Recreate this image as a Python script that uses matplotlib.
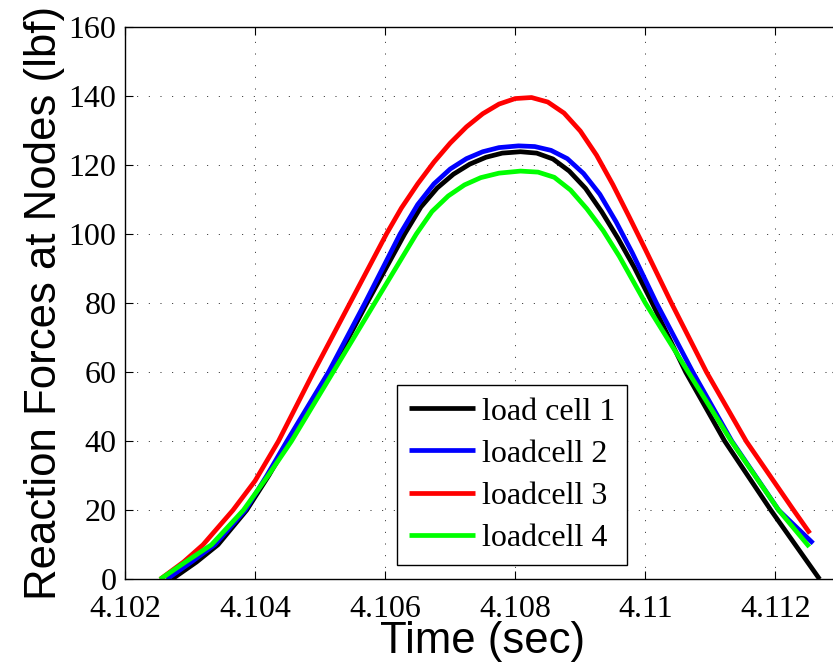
import matplotlib
matplotlib.use('Agg')
import matplotlib.pyplot as plt

# values (time in sec, force in lbf)
t_cell1 = [4.10272, 4.10310, 4.10343, 4.10387, 4.10421, 4.10452, 4.10484, 4.10516, 4.10544,
           4.10572, 4.10601, 4.10630, 4.10655, 4.10680, 4.10705, 4.10730, 4.10755, 4.10780,
           4.10808, 4.10833, 4.10858, 4.10883, 4.10908, 4.10933, 4.10958, 4.10983, 4.11010,
           4.11062, 4.11122, 4.11193, 4.11268]
f_cell1 = [0, 5, 10, 20, 30, 40, 50, 60, 70,
           80, 90, 100, 107.8, 113.3, 117.3, 120.2, 122.2, 123.4,
           123.8, 123.4, 121.7, 118.2, 113.2, 106.4, 98.7, 90.3, 80.2,
           60, 40, 20, 0]

t_cell2 = [4.10264, 4.10302, 4.10338, 4.10385, 4.10418, 4.10449, 4.10481, 4.10513, 4.10541,
           4.10569, 4.10596, 4.10623, 4.10650, 4.10675, 4.10700, 4.10725, 4.10750, 4.10775,
           4.10805, 4.10830, 4.10855, 4.10880, 4.10905, 4.10930, 4.10955, 4.10980, 4.11017,
           4.11073, 4.11133, 4.11205, 4.11258]
f_cell2 = [0, 5, 10, 20, 30, 40, 50, 60, 70,
           80, 90, 100, 108.5, 114.5, 118.8, 121.8, 123.8, 125.0,
           125.5, 125.3, 124.2, 121.8, 117.5, 111.5, 103.5, 94.5, 80,
           60, 40, 20, 10.4]

t_cell3 = [4.10254, 4.10290, 4.10320, 4.10366, 4.10400, 4.10436, 4.10463, 4.10490, 4.10518,
           4.10546, 4.10574, 4.10602, 4.10625, 4.10650, 4.10675, 4.10700, 4.10725, 4.10750,
           4.10775, 4.10800, 4.10825, 4.10850, 4.10875, 4.10900, 4.10925, 4.10950, 4.10975,
           4.11000, 4.11040, 4.11094, 4.11155, 4.11228, 4.11253]
f_cell3 = [0, 5, 10, 20, 28.5, 40, 50, 60, 70,
           80, 90, 100, 107.5, 114.5, 120.8, 126.3, 131.0, 134.8,
           137.6, 139.2, 139.5, 138.2, 135.0, 129.8, 122.8, 114.3, 105.0,
           95.5, 80, 60, 40, 20, 13.3]

t_cell4 = [4.10254, 4.10293, 4.10333, 4.10382, 4.10420, 4.10456, 4.10488, 4.10520, 4.10552,
           4.10584, 4.10616, 4.10648, 4.10672, 4.10697, 4.10722, 4.10747, 4.10775, 4.10808,
           4.10835, 4.10860, 4.10885, 4.10910, 4.10935, 4.10960, 4.11000, 4.11066, 4.11132,
           4.11205, 4.11252]
f_cell4 = [0, 5, 10, 20, 30, 40, 50, 60, 70,
           80, 90, 100, 106.5, 111.0, 114.2, 116.3, 117.6, 118.2,
           117.9, 116.4, 112.7, 107.3, 101.0, 93.5, 80, 60, 40,
           20, 9.4]

labels = ['load cell 1', 'loadcell 2', 'loadcell 3', 'loadcell 4']
colors = ['#000000', '#0000ff', '#ff0000', '#00ff00']

x_ticks = [4.102, 4.104, 4.106, 4.108, 4.110, 4.112]
x_tick_labels = ['4.102', '4.104', '4.106', '4.108', '4.11', '4.112']
y_ticks = [0, 20, 40, 60, 80, 100, 120, 140, 160]

serif = ['Liberation Serif', 'DejaVu Serif']
sans = ['Liberation Sans', 'DejaVu Sans']

fig = plt.figure(figsize=(8.33, 6.68), dpi=100)
# right edge of the axes lies past the figure edge (cropped like the reference)
ax = fig.add_axes([0.150, 0.1328, 0.859, 0.8272])

series = [(t_cell1, f_cell1), (t_cell2, f_cell2), (t_cell3, f_cell3), (t_cell4, f_cell4)]
for (t, f), lab, col in zip(series, labels, colors):
    ax.plot(t, f, color=col, linewidth=3.4, label=lab, solid_capstyle='butt',
            solid_joinstyle='round')

ax.set_xlim(4.102, 4.113)
ax.set_ylim(0, 160)
ax.set_xticks(x_ticks)
ax.set_xticklabels(x_tick_labels, family=serif, fontsize=23)
ax.set_yticks(y_ticks)
ax.set_yticklabels([str(v) for v in y_ticks], family=serif, fontsize=23)
ax.tick_params(direction='in', length=5.5, width=0.8, top=True, right=True, colors='black')
ax.tick_params(axis='x', pad=11)
ax.tick_params(axis='y', pad=6)

ax.grid(True, color='#222222', linestyle=(0, (1, 11)), linewidth=0.7)
ax.set_axisbelow(True)
for s in ax.spines.values():
    s.set_linewidth(1.0)
    s.set_color('black')

ax.set_xlabel('Time (sec)', family=sans, fontsize=31.5, labelpad=-2)
ax.set_ylabel('Reaction Forces at Nodes (lbf)', family=sans, fontsize=31.5, labelpad=3)

leg = ax.legend(loc='upper left', bbox_to_anchor=(397 / 833, 1 - 385 / 668),
                bbox_transform=fig.transFigure, borderaxespad=0, fancybox=False,
                framealpha=1, edgecolor='black', handlelength=2.06, handletextpad=0.22,
                labelspacing=0.40, borderpad=0.38, prop={'family': serif, 'size': 23})
leg.get_frame().set_linewidth(1.0)
for line in leg.get_lines():
    line.set_linewidth(3.4)

fig.savefig('out.png', dpi=100)
